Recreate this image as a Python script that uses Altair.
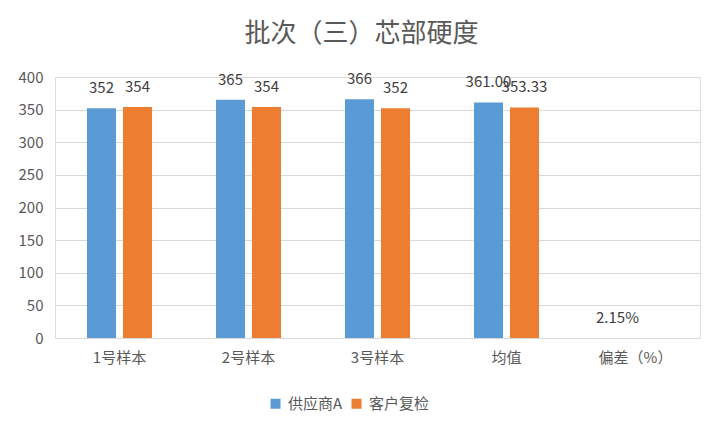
import altair as alt
import pandas as pd

categories = ["1号样本", "2号样本", "3号样本", "均值", "偏差（%）"]
series_names = ["供应商A", "客户复检"]
supplier_values = [352, 365, 366, 361.00, 0.0215]
supplier_labels = ["352", "365", "366", "361.00", "2.15%"]
customer_values = [354, 354, 352, 353.33, None]
customer_labels = ["354", "354", "352", "353.33", ""]
colors = ["#5B9BD5", "#ED7D31"]
y_ticks = [0, 50, 100, 150, 200, 250, 300, 350, 400]

rows = []
for i, c in enumerate(categories):
    rows.append({"cat": c, "series": series_names[0], "value": supplier_values[i], "label": supplier_labels[i]})
    if customer_values[i] is not None:
        rows.append({"cat": c, "series": series_names[1], "value": customer_values[i], "label": customer_labels[i]})
df = pd.DataFrame(rows)

FONT = "Noto Sans CJK SC"

x_enc = alt.X("cat:N", sort=categories, title=None,
              scale=alt.Scale(paddingInner=0.496, paddingOuter=0.248),
              axis=alt.Axis(labelAngle=0, ticks=False, domain=False, labelPadding=12,
                            labelFontSize=15, labelColor="#595959", labelFont=FONT))
xo_enc = alt.XOffset("series:N", sort=series_names,
                     scale=alt.Scale(paddingInner=0.194, paddingOuter=0))
y_enc = alt.Y("value:Q", title=None,
              scale=alt.Scale(domain=[0, 400], nice=False),
              axis=alt.Axis(values=y_ticks, ticks=False, domain=False, labelPadding=12,
                            labelOverlap=False,
                            labelFontSize=15, labelColor="#595959", labelFont=FONT,
                            gridColor="#D9D9D9", gridWidth=1))

bars = alt.Chart(df).mark_bar().encode(
    x=x_enc, xOffset=xo_enc, y=y_enc,
    color=alt.Color("series:N", sort=series_names,
                    scale=alt.Scale(domain=series_names, range=colors),
                    legend=alt.Legend(title=None, orient="none", direction="horizontal",
                                      legendX=213, legendY=319,
                                      symbolType="square", symbolSize=100,
                                      symbolStrokeWidth=0, labelFontSize=15,
                                      labelColor="#595959", labelFont=FONT,
                                      labelOffset=5, columnPadding=6)),
)

labels = alt.Chart(df).mark_text(baseline="middle", dy=-20, fontSize=15,
                                 color="#404040", font=FONT).encode(
    x=x_enc, xOffset=xo_enc, y=y_enc, text="label:N",
)

chart = alt.layer(bars, labels).properties(
    width=645, height=261,
    autosize=alt.AutoSizeParams(type="none"),
    padding={"left": 47, "top": 69, "right": 14, "bottom": 88},
    title=alt.Title("批次（三）芯部硬度", fontSize=26, font=FONT, fontWeight="normal",
                    color="#595959", anchor="middle", dx=-16, offset=23),
).configure_view(stroke=None).configure(background="white")

chart.save("out.html", embed_options={"renderer": "svg", "actions": False})
